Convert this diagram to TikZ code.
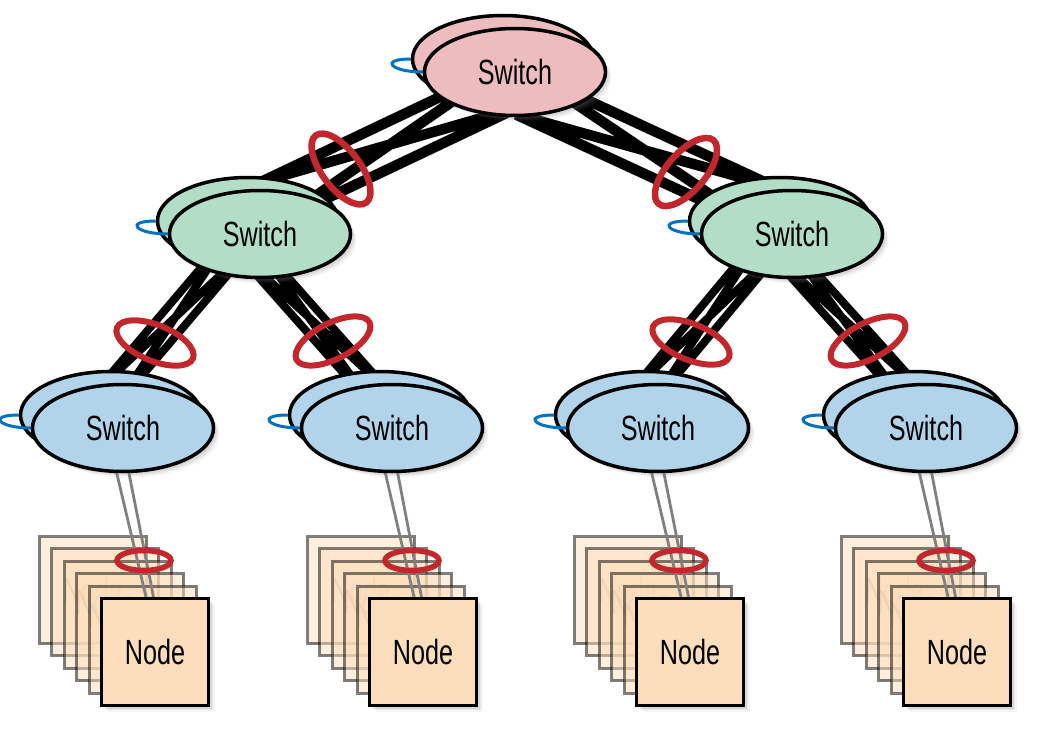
\documentclass[tikz,border=0pt]{standalone}
\usepackage{fontspec}
\setmainfont{Liberation Sans}[FakeStretch=0.72]
\usetikzlibrary{shapes.geometric,shadows,calc}
\pgfdeclarelayer{back}
\pgfdeclarelayer{links}
\pgfdeclarelayer{swb}
\pgfdeclarelayer{arcs}
\pgfdeclarelayer{front}
\pgfsetlayers{back,links,swb,arcs,main,front}
\definecolor{swtop}{RGB}{236,188,191}
\definecolor{swmid}{RGB}{178,221,198}
\definecolor{swbot}{RGB}{178,212,234}
\definecolor{nodefill}{RGB}{253,222,188}
\definecolor{ringred}{RGB}{193,39,45}
\definecolor{arcblue}{RGB}{0,114,188}
\definecolor{linkgray}{RGB}{128,128,128}
\tikzset{
  softshadow/.style={
    drop shadow={shadow xshift=6pt, shadow yshift=-6pt, opacity=0.08},
    drop shadow={shadow xshift=4.5pt, shadow yshift=-4.5pt, opacity=0.12},
    drop shadow={shadow xshift=3pt, shadow yshift=-3pt, opacity=0.15}},
  sw/.style={ellipse, draw=black, line width=3.5pt, minimum width=181pt, minimum height=87pt,
    inner sep=0pt, font=\fontsize{35}{42}\selectfont, softshadow},
  bluearc/.style={draw=arcblue, line width=3pt},
  linkA/.style={draw=black, line width=10.5pt},
  linkB/.style={draw=black, line width=8pt},
  glink/.style={draw=linkgray, line width=2.8pt},
  nodebox/.style={rectangle, draw=black, line width=3pt, fill=nodefill, minimum size=107pt,
    inner sep=0pt, font=\fontsize{35}{42}\selectfont, softshadow},
  nodeback/.style={rectangle, draw=black, line width=3pt, fill=nodefill, minimum size=107pt,
    inner sep=0pt, font=\fontsize{35}{42}\selectfont,
    draw opacity=0.5, fill opacity=0.5, text opacity=0.22},
  ringA/.style={draw=ringred, line width=6.5pt},
  ringB/.style={draw=ringred, line width=6pt},
  ringC/.style={draw=ringred, line width=5.5pt},
}
% bundle of four links between two switch pairs: #1 parent point, #2 child point, #3 half spread, #4 style
\newcommand\linkbundle[4]{%
  \coordinate (bA) at ($(#1)!#3!90:(#2)$);
  \coordinate (bB) at ($(#1)!#3!-90:(#2)$);
  \coordinate (bC) at ($(#2)!#3!-90:(#1)$);
  \coordinate (bD) at ($(#2)!#3!90:(#1)$);
  \draw[#4] (bA) -- (bC) (bA) -- (bD) (bB) -- (bC) (bB) -- (bD);}
\begin{document}
\begin{tikzpicture}[x=1pt,y=-1pt]
\useasboundingbox (0,0) rectangle (1044,733);
% front switches
\node[sw,fill=swtop] (tf) at (515,72) {Switch};
\node[sw,fill=swmid] (m1f) at (260,234) {Switch};
\node[sw,fill=swmid] (m2f) at (792,234) {Switch};
\foreach \n/\x in {1/123,2/392,3/658,4/926}
  \node[sw,fill=swbot] (b\n f) at (\x,428) {Switch};
% back switches
\begin{pgfonlayer}{swb}
\node[sw,fill=swtop] (tb) at (503,59) {};
\node[sw,fill=swmid] (m1b) at (248,221) {};
\node[sw,fill=swmid] (m2b) at (780,221) {};
\foreach \n/\x in {1/111,2/380,3/646,4/914}
  \node[sw,fill=swbot] (b\n b) at (\x,415) {};
\end{pgfonlayer}
% blue arcs
\begin{pgfonlayer}{arcs}
\foreach \s in {t,m1,m2,b1,b2,b3,b4}
  \draw[bluearc] (\s b.west) .. controls +(-32,0) and +(-32,0) .. (\s f.west);
\end{pgfonlayer}
% compute nodes
\foreach \n/\x in {1/155,2/423,3/690,4/957}{
  \node[nodebox] (n\n) at (\x,652) {Node};
  \begin{pgfonlayer}{back}
  \foreach \k in {5,4,3,2,1}
    \node[nodeback] (n\n k\k) at ({\x-12.4*\k},{652-12.4*\k}) {Node};
  \end{pgfonlayer}
}
% links
\begin{pgfonlayer}{links}
\coordinate (tlP) at ($(tf.center)+(-6,16)$);
\coordinate (tlC) at ($(m1f.center)+(11,-33)$);
\coordinate (trP) at ($(tf.center)+(10,23)$);
\coordinate (trC) at ($(m2f.center)+(-27,-28)$);
\linkbundle{tlP}{tlC}{21.5pt}{linkA}
\linkbundle{trP}{trC}{21.5pt}{linkA}
\foreach \m/\l/\r in {1/1/2,2/3/4}{
  \coordinate (mlP\m) at ($(m\m f.center)+(-14,0)$);
  \coordinate (mlC\m) at ($(b\l f.center)+(-18,-28)$);
  \coordinate (mrP\m) at ($(m\m f.center)+(-25,0)$);
  \coordinate (mrC\m) at ($(b\r f.center)+(-10,-28)$);
  \linkbundle{mlP\m}{mlC\m}{12.5pt}{linkB}
  \linkbundle{mrP\m}{mrC\m}{11pt}{linkB}
}
\foreach \n in {1,2,3,4}{
  \draw[glink] ($(b\n b.center)+(-8,0)$) -- ($(n\n.north)+(-9,0)$);
  \draw[glink] ($(b\n f.center)+(-3,0)$) -- ($(n\n.north)+(-1.5,0)$);
}
\end{pgfonlayer}
% rings
\begin{pgfonlayer}{front}
\draw[ringA, rotate around={-53:(341,169)}] (341,169) ellipse [x radius=42pt, y radius=19pt];
\draw[ringA, rotate around={49:(686,172)}] (686,172) ellipse [x radius=42pt, y radius=19pt];
\draw[ringB, rotate around={-22:(155,343)}] (155,343) ellipse [x radius=41pt, y radius=18pt];
\draw[ringB, rotate around={27:(333,341)}] (333,341) ellipse [x radius=41pt, y radius=18pt];
\draw[ringB, rotate around={-22:(691,342)}] (691,342) ellipse [x radius=41pt, y radius=18pt];
\draw[ringB, rotate around={27:(868,341)}] (868,341) ellipse [x radius=41pt, y radius=18pt];
\foreach \n in {1,2,3,4}
  \draw[ringC] ($(n\n.center)+(-11,-91.5)$) ellipse [x radius=27pt, y radius=10pt];
\end{pgfonlayer}
\end{tikzpicture}
\end{document}
